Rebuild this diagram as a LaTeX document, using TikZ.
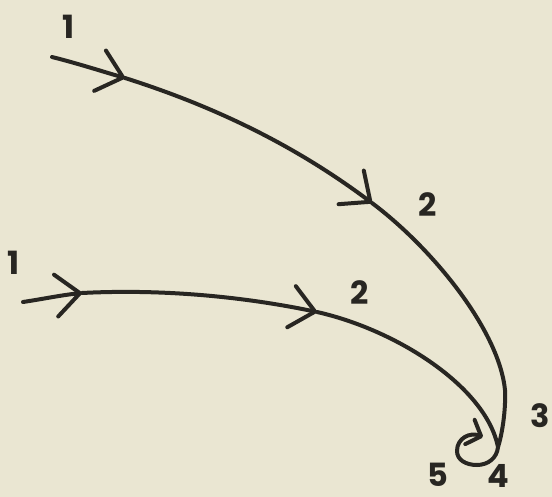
\documentclass[tikz,border=0pt]{standalone}
\usepackage{fontspec}
\setmainfont{Poppins}
\usetikzlibrary{arrows.meta}
\definecolor{paper}{RGB}{234,230,210}
\definecolor{ink}{RGB}{40,38,34}
\tikzset{
  trail/.style={
    draw=ink,
    line width=2pt,
    line cap=round
  },
  chevron/.style={
    trail,
    -{Straight Barb[length=12pt,width=21pt,round]}
  },
  smallchevron/.style={
    trail,
    -{Straight Barb[length=6pt,width=13pt,round]}
  },
  stage/.style={
    text=ink,
    inner sep=0pt,
    font=\fontsize{16}{16}\selectfont\bfseries
  }
}

\begin{document}
\begin{tikzpicture}[x=0.5pt,y=-0.5pt]
\fill[paper] (0,0) rectangle (552,497);
\useasboundingbox (0,0) rectangle (552,497);

\coordinate (u0) at (52,57);
\coordinate (u1) at (125,78);
\coordinate (u2) at (372,203);
\coordinate (u3) at (505,390);
\coordinate (u4) at (498,447);
\coordinate (v0) at (23,302);
\coordinate (v1) at (82,293);
\coordinate (v2) at (317,312);
\coordinate (v3) at (477,465);
\coordinate (v4) at (457,451);
\coordinate (v5) at (483,437);

\node[stage] (s1a) at (69,27) {1};
\node[stage] (s2a) at (428,205) {2};
\node[stage] (s1b) at (14,263) {1};
\node[stage] (s2b) at (360,293) {2};
\node[stage] (s3) at (540,416) {3};
\node[stage] (s4) at (498,476) {4};
\node[stage] (s5) at (438,475) {5};

\draw[chevron] (u0) .. controls (76,63) and (101,71) .. (u1);
\draw[chevron] (u1) .. controls (210,105) and (292,143) .. (u2);
\draw[trail] (u2) .. controls (432,248) and (499,330) .. (u3)
  .. controls (506,410) and (502,435) .. (u4);

\draw[chevron] (v0) .. controls (43,299) and (62,295) .. (v1);
\draw[chevron] (v1) .. controls (160,289) and (240,296) .. (v2);
\draw[trail] (v2) .. controls (397,330) and (486,387) .. (u4)
  .. controls (497,458) and (488,465) .. (v3)
  .. controls (466,465) and (457,460) .. (v4);
\draw[smallchevron] (v4) .. controls (457,438) and (470,432) .. (v5);
\end{tikzpicture}
\end{document}
